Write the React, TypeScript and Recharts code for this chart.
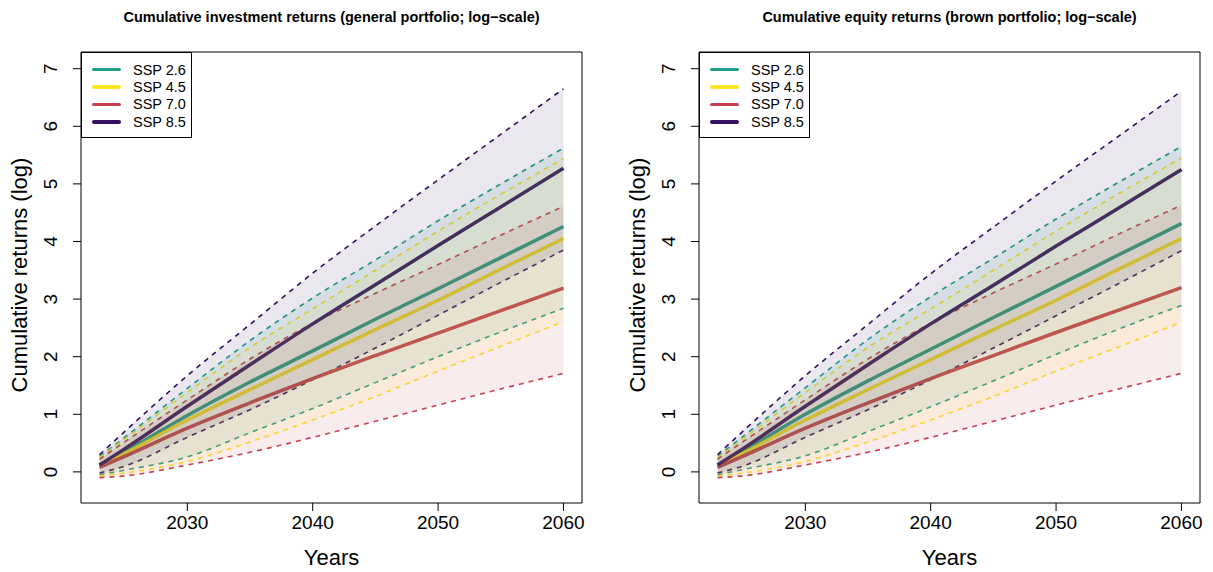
import { ComposedChart, Line, Area, XAxis, YAxis, ReferenceArea } from "recharts"

const FONT = "'Liberation Sans', Arial, Helvetica, sans-serif"

const YEARS = [2023, 2025, 2030, 2035, 2040, 2045, 2050, 2055, 2060]
const X_TICKS = [2030, 2040, 2050, 2060]
const Y_TICKS = [0, 1, 2, 3, 4, 5, 6, 7]
const X_DOMAIN = [2021.52, 2061.48]
const Y_DOMAIN = [-0.54, 7.29]

const SCENARIOS = ["SSP 2.6", "SSP 4.5", "SSP 7.0", "SSP 8.5"]
const COLORS = ["#21a08a", "#fde725", "#c8404f", "#351060"]

// general portfolio (left)
const GEN_26_LO = [-0.05, 0.03, 0.26, 0.68, 1.1, 1.55, 2.0, 2.43, 2.84]
const GEN_26_MID = [0.12, 0.35, 0.98, 1.56, 2.1, 2.65, 3.18, 3.72, 4.26]
const GEN_26_HI = [0.27, 0.6, 1.45, 2.28, 3.02, 3.68, 4.36, 5.0, 5.62]
const GEN_45_LO = [-0.07, -0.02, 0.18, 0.52, 0.9, 1.31, 1.75, 2.18, 2.61]
const GEN_45_MID = [0.1, 0.32, 0.9, 1.43, 1.95, 2.47, 2.98, 3.52, 4.05]
const GEN_45_HI = [0.25, 0.57, 1.38, 2.16, 2.83, 3.5, 4.18, 4.82, 5.44]
const GEN_70_LO = [-0.1, -0.07, 0.12, 0.34, 0.6, 0.88, 1.16, 1.44, 1.71]
const GEN_70_MID = [0.08, 0.27, 0.76, 1.2, 1.62, 2.02, 2.41, 2.8, 3.19]
const GEN_70_HI = [0.22, 0.52, 1.25, 1.96, 2.58, 3.1, 3.6, 4.11, 4.61]
const GEN_85_LO = [-0.02, 0.1, 0.6, 1.08, 1.6, 2.15, 2.72, 3.29, 3.85]
const GEN_85_MID = [0.12, 0.4, 1.14, 1.86, 2.57, 3.25, 3.93, 4.6, 5.27]
const GEN_85_HI = [0.3, 0.7, 1.67, 2.56, 3.45, 4.27, 5.07, 5.86, 6.65]

// brown portfolio (right)
const BRN_26_LO = [-0.05, 0.04, 0.28, 0.7, 1.13, 1.58, 2.04, 2.48, 2.89]
const BRN_26_MID = [0.12, 0.36, 1.0, 1.58, 2.13, 2.68, 3.22, 3.77, 4.31]
const BRN_26_HI = [0.27, 0.61, 1.46, 2.3, 3.04, 3.71, 4.39, 5.03, 5.65]
const BRN_45_LO = [-0.07, -0.02, 0.18, 0.52, 0.9, 1.31, 1.75, 2.17, 2.6]
const BRN_45_MID = [0.1, 0.32, 0.9, 1.43, 1.95, 2.47, 2.98, 3.52, 4.05]
const BRN_45_HI = [0.25, 0.57, 1.38, 2.16, 2.83, 3.5, 4.18, 4.83, 5.45]
const BRN_70_LO = [-0.1, -0.07, 0.12, 0.34, 0.6, 0.88, 1.16, 1.44, 1.71]
const BRN_70_MID = [0.08, 0.27, 0.76, 1.2, 1.62, 2.02, 2.42, 2.81, 3.2]
const BRN_70_HI = [0.22, 0.52, 1.25, 1.96, 2.58, 3.11, 3.61, 4.13, 4.63]
const BRN_85_LO = [-0.02, 0.1, 0.6, 1.08, 1.6, 2.15, 2.71, 3.27, 3.84]
const BRN_85_MID = [0.12, 0.4, 1.14, 1.86, 2.57, 3.24, 3.92, 4.58, 5.25]
const BRN_85_HI = [0.3, 0.7, 1.67, 2.56, 3.44, 4.25, 5.05, 5.83, 6.61]

type Band = { lo: number[]; mid: number[]; hi: number[] }

const GENERAL: Band[] = [
  { lo: GEN_26_LO, mid: GEN_26_MID, hi: GEN_26_HI },
  { lo: GEN_45_LO, mid: GEN_45_MID, hi: GEN_45_HI },
  { lo: GEN_70_LO, mid: GEN_70_MID, hi: GEN_70_HI },
  { lo: GEN_85_LO, mid: GEN_85_MID, hi: GEN_85_HI },
]

const BROWN: Band[] = [
  { lo: BRN_26_LO, mid: BRN_26_MID, hi: BRN_26_HI },
  { lo: BRN_45_LO, mid: BRN_45_MID, hi: BRN_45_HI },
  { lo: BRN_70_LO, mid: BRN_70_MID, hi: BRN_70_HI },
  { lo: BRN_85_LO, mid: BRN_85_MID, hi: BRN_85_HI },
]

function buildRows(bands: Band[]) {
  return YEARS.map((year, i) => {
    const row: Record<string, any> = { year }
    bands.forEach((b, k) => {
      row[`lo${k}`] = b.lo[i]
      row[`mid${k}`] = b.mid[i]
      row[`hi${k}`] = b.hi[i]
      row[`band${k}`] = [b.lo[i], b.hi[i]]
    })
    return row
  })
}

const YTick = (props: any) => {
  const { x, y, payload } = props
  return (
    <text
      x={x}
      y={y}
      transform={`rotate(-90 ${x} ${y})`}
      textAnchor="middle"
      fontSize={19}
      fontFamily={FONT}
      fill="#000"
    >
      {payload.value}
    </text>
  )
}

function Legend() {
  return (
    <div
      style={{
        position: "absolute",
        left: 81,
        top: 52,
        width: 111,
        height: 86,
        border: "1px solid #000",
        background: "#fff",
        boxSizing: "border-box",
        paddingTop: 8,
        fontFamily: FONT,
        fontSize: 14.5,
      }}
    >
      {SCENARIOS.map((name, k) => (
        <div key={name} style={{ display: "flex", alignItems: "center", height: 17.4 }}>
          <div style={{ marginLeft: 10, width: 29, height: 3.5, background: COLORS[k], borderRadius: 2 }} />
          <span style={{ marginLeft: 12 }}>{name}</span>
        </div>
      ))}
    </div>
  )
}

function Panel({ title, bands, left, width, marginRight }: { title: string; bands: Band[]; left: number; width: number; marginRight: number }) {
  const rows = buildRows(bands)
  const plotW = width - 81 - marginRight
  return (
    <div style={{ position: "absolute", left, top: 0, width, height: 572 }}>
      <ComposedChart width={width} height={572} data={rows} margin={{ top: 52, right: marginRight, bottom: 39, left: 0 }}>
        <XAxis
          type="number"
          dataKey="year"
          domain={X_DOMAIN}
          ticks={X_TICKS}
          allowDataOverflow
          axisLine={false}
          tickSize={8}
          tickMargin={5}
          tickLine={{ stroke: "#000" }}
          tick={{ fontSize: 19, fill: "#000", fontFamily: FONT }}
          height={30}
        />
        <YAxis
          type="number"
          domain={Y_DOMAIN}
          ticks={Y_TICKS}
          allowDataOverflow
          axisLine={false}
          width={81}
          tickSize={8}
          tickMargin={16}
          tickLine={{ stroke: "#000" }}
          tick={<YTick />}
        />
        {bands.map((_, k) => (
          <Line key={`hi${k}`} type="monotone" dataKey={`hi${k}`} stroke={COLORS[k]} strokeWidth={1.6} strokeDasharray="5 5" dot={false} activeDot={false} isAnimationActive={false} />
        ))}
        {bands.map((_, k) => (
          <Line key={`lo${k}`} type="monotone" dataKey={`lo${k}`} stroke={COLORS[k]} strokeWidth={1.6} strokeDasharray="5 5" dot={false} activeDot={false} isAnimationActive={false} />
        ))}
        {bands.map((_, k) => (
          <Line key={`mid${k}`} type="monotone" dataKey={`mid${k}`} stroke={COLORS[k]} strokeWidth={3.5} dot={false} activeDot={false} isAnimationActive={false} />
        ))}
        {/* bands drawn over the lines, as in the original plot */}
        {bands.map((_, k) => (
          <Area key={`band${k}`} zIndex={500} type="monotone" dataKey={`band${k}`} stroke="none" fill={COLORS[k]} fillOpacity={0.1} dot={false} activeDot={false} isAnimationActive={false} />
        ))}
        <ReferenceArea x1={X_DOMAIN[0]} x2={X_DOMAIN[1]} y1={Y_DOMAIN[0]} y2={Y_DOMAIN[1]} fill="none" stroke="#000" strokeWidth={1} ifOverflow="visible" />
      </ComposedChart>
      <Legend />
      <div
        style={{
          position: "absolute",
          left: 81,
          top: 8,
          width: plotW,
          textAlign: "center",
          fontFamily: FONT,
          fontWeight: "bold",
          fontSize: 14.5,
          lineHeight: "18px",
          whiteSpace: "nowrap",
        }}
      >
        {title}
      </div>
      <div
        style={{
          position: "absolute",
          left: 81,
          top: 545,
          width: plotW,
          textAlign: "center",
          fontFamily: FONT,
          fontSize: 22,
          lineHeight: "26px",
        }}
      >
        Years
      </div>
      <div
        style={{
          position: "absolute",
          left: 20,
          top: 275,
          transform: "translate(-50%, -50%) rotate(-90deg)",
          fontFamily: FONT,
          fontSize: 22,
          lineHeight: "26px",
          whiteSpace: "nowrap",
        }}
      >
        Cumulative returns (log)
      </div>
    </div>
  )
}

export default function App() {
  return (
    <div style={{ position: "absolute", left: 0, top: 0, width: 1213, height: 572, overflow: "hidden", background: "#fff" }}>
      <Panel title="Cumulative investment returns (general portfolio; log−scale)" bands={GENERAL} left={0} width={600} marginRight={18} />
      <Panel title="Cumulative equity returns (brown portfolio; log−scale)" bands={BROWN} left={618} width={595} marginRight={13} />
    </div>
  )
}
